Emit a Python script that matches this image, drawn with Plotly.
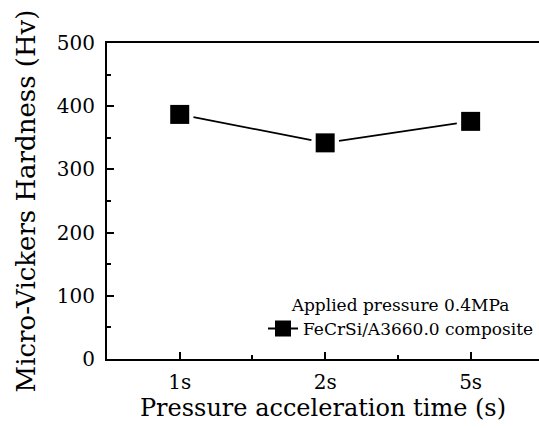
import plotly.graph_objects as go

categories = ["1s", "2s", "5s"]
hardness = [387, 342, 376]
series_name = "FeCrSi/A3660.0 composite"
legend_title = "Applied pressure 0.4MPa"
y_ticks = [0, 100, 200, 300, 400, 500]

x_pos = list(range(1, len(categories) + 1))

W, H = 539, 428
ml, mr, mt, mb = 107, 0, 43, 69
x_range = [0.5, 3.47]
y_range = [0, 500]
px_x = (W - ml - mr) / (x_range[1] - x_range[0])
px_y = (H - mt - mb) / (y_range[1] - y_range[0])

# connecting segments with small gaps near the markers, computed in pixel space
trim = 14.0
sx, sy = [], []
for i in range(len(x_pos) - 1):
    x0, y0 = x_pos[i] * px_x, hardness[i] * px_y
    x1, y1 = x_pos[i + 1] * px_x, hardness[i + 1] * px_y
    dx, dy = x1 - x0, y1 - y0
    L = (dx * dx + dy * dy) ** 0.5
    ux, uy = dx / L, dy / L
    sx += [(x0 + ux * trim) / px_x, (x1 - ux * trim) / px_x, None]
    sy += [(y0 + uy * trim) / px_y, (y1 - uy * trim) / px_y, None]

font = "DejaVu Serif"
fig = go.Figure()
fig.add_trace(go.Scatter(x=sx, y=sy, mode="lines", line=dict(color="black", width=1.8),
                         showlegend=False, hoverinfo="skip"))
fig.add_trace(go.Scatter(x=x_pos, y=hardness, mode="markers",
                         marker=dict(symbol="square", size=19, color="black"),
                         showlegend=False))
fig.add_trace(go.Scatter(x=[None], y=[None], mode="lines+markers", name=series_name,
                         line=dict(color="black", width=1.8),
                         marker=dict(symbol="square", size=17, color="black")))

fig.update_layout(
    width=W, height=H,
    margin=dict(l=ml, r=mr, t=mt, b=mb, pad=0),
    paper_bgcolor="white", plot_bgcolor="white",
    font=dict(family=font, color="black"),
    legend=dict(x=1.0, xanchor="right", y=0.222, yanchor="top",
                bgcolor="rgba(0,0,0,0)", font=dict(family=font, size=17),
                itemsizing="trace",
                title=dict(text=legend_title, side="top center", font=dict(family=font, size=17)),
                tracegroupgap=0),
    showlegend=True,
)
fig.update_xaxes(
    range=x_range, tickmode="array", tickvals=x_pos, ticktext=categories,
    ticks="inside", ticklen=7, tickwidth=1.5, tickcolor="black",
    showline=True, linewidth=2, linecolor="black", mirror=True,
    showgrid=False, zeroline=False, tickfont=dict(family=font, size=20),
    minor=dict(tickvals=[1.5, 2.5], ticks="inside", ticklen=4, tickwidth=1.5, tickcolor="black"),
    title=dict(text="Pressure acceleration time (s)", font=dict(family=font, size=24), standoff=6),
    ticklabelstandoff=4,
)
fig.update_yaxes(
    range=y_range, tickmode="array", tickvals=y_ticks,
    ticks="inside", ticklen=7, tickwidth=1.5, tickcolor="black",
    showline=True, linewidth=2, linecolor="black", mirror=False,
    showgrid=False, zeroline=False, tickfont=dict(family=font, size=20),
    minor=dict(dtick=50, ticks="inside", ticklen=4, tickwidth=1.5, tickcolor="black"),
    title=dict(text="Micro-Vickers Hardness (Hv)", font=dict(family=font, size=26), standoff=14),
    ticklabelstandoff=6,
)
fig.write_html("out.html")
